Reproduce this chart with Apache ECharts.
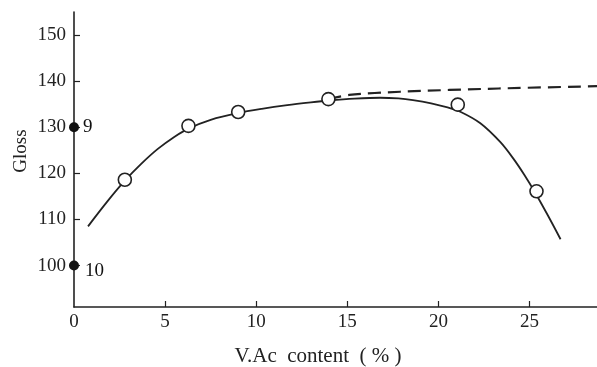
<!DOCTYPE html>
<html>
<head>
<meta charset="utf-8">
<script src="https://cdn.jsdelivr.net/npm/echarts@6/dist/echarts.min.js"></script>
<style>html,body{margin:0;padding:0;background:#fff}#c{width:597px;height:367px}</style>
</head>
<body>
<div id="c"></div>
<script>
// Data
const xTickValues = [0, 5, 10, 15, 20, 25];
const yTickValues = [100, 110, 120, 130, 140, 150];
const measuredX = [2.79, 6.28, 9.01, 13.96, 21.06, 25.38];
const measuredGloss = [118.6, 130.3, 133.3, 136.1, 134.9, 116.1];
const curveX = [0.77, 1.8, 2.79, 3.7, 4.6, 5.5, 6.28, 7.5, 9.01, 10.3, 11.7, 13.0, 14.0, 15.4, 16.8, 17.8, 18.6, 19.6, 20.5, 21.2, 22.3, 23.4, 24.1, 24.7, 25.3, 26.0, 26.7];
const curveGloss = [108.5, 113.75, 118.4, 122.1, 125.3, 127.9, 129.7, 131.6, 133.1, 134.0, 134.8, 135.4, 135.8, 136.2, 136.4, 136.25, 135.9, 135.2, 134.3, 133.35, 130.85, 126.75, 123.25, 119.75, 115.85, 110.9, 105.7];
const dashX = [13.96, 15.1, 17.9, 23.3, 28.7];
const dashGloss = [136.1, 137.0, 137.7, 138.4, 138.9];
const refX = [0, 0];
const refGloss = [130, 100];
const refLabels = ['9', '10'];

const pair = (xs, ys) => xs.map((x, i) => [x, ys[i]]);
const ink = '#222';
const font = '"Liberation Serif", "DejaVu Serif", serif';

const chart = echarts.init(document.getElementById('c'), null, {renderer: 'canvas'});
chart.setOption({
  backgroundColor: '#fff',
  animation: false,
  grid: {left: 74, right: 0, top: 12, bottom: 60},
  xAxis: {
    type: 'value', min: 0, max: 28.7,
    axisLine: {lineStyle: {color: ink, width: 1.6}},
    axisTick: {inside: true, length: 6, lineStyle: {color: ink, width: 1.2}, customValues: xTickValues.slice(1)},
    axisLabel: {customValues: xTickValues, color: ink, fontFamily: font, fontSize: 19, margin: 6},
    splitLine: {show: false}
  },
  yAxis: {
    type: 'value', min: 91, max: 155,
    axisLine: {show: true, lineStyle: {color: ink, width: 1.6}},
    axisTick: {show: true, inside: true, length: 6, lineStyle: {color: ink, width: 1.2}, customValues: yTickValues},
    axisLabel: {customValues: yTickValues, color: ink, fontFamily: font, fontSize: 19, margin: 8},
    splitLine: {show: false}
  },
  graphic: [
    {type: 'text', x: 21, y: 151, rotation: Math.PI / 2,
      style: {text: 'Gloss', fill: ink, font: '19px ' + font, textAlign: 'center', textVerticalAlign: 'middle'}},
    {type: 'text', x: 318, y: 356,
      style: {text: 'V.Ac  content  ( % )', fill: ink, font: '21px ' + font, textAlign: 'center', textVerticalAlign: 'middle'}}
  ],
  series: [
    {type: 'line', data: pair(curveX, curveGloss), smooth: 0.3, showSymbol: false, symbol: 'none',
      lineStyle: {color: ink, width: 1.8}, z: 2},
    {type: 'line', data: pair(dashX, dashGloss), smooth: 0.3, showSymbol: false, symbol: 'none',
      lineStyle: {color: ink, width: 2.2, type: [13, 7]}, z: 2},
    {type: 'scatter', data: pair(measuredX, measuredGloss), symbol: 'circle', symbolSize: 13,
      itemStyle: {color: '#fff', borderColor: ink, borderWidth: 1.6, opacity: 1}, z: 3},
    {type: 'scatter',
      data: pair(refX, refGloss).map((d, i) => ({value: d, label: {show: true, formatter: refLabels[i], color: '#111', offset: i === 1 ? [2, 5] : [0, 0]}})),
      symbol: 'circle', symbolSize: 10, clip: false,
      itemStyle: {color: '#111', opacity: 1},
      label: {show: true, position: 'right', distance: 4, color: '#111', fontFamily: font, fontSize: 19}, z: 4}
  ]
});
</script>
</body>
</html>
